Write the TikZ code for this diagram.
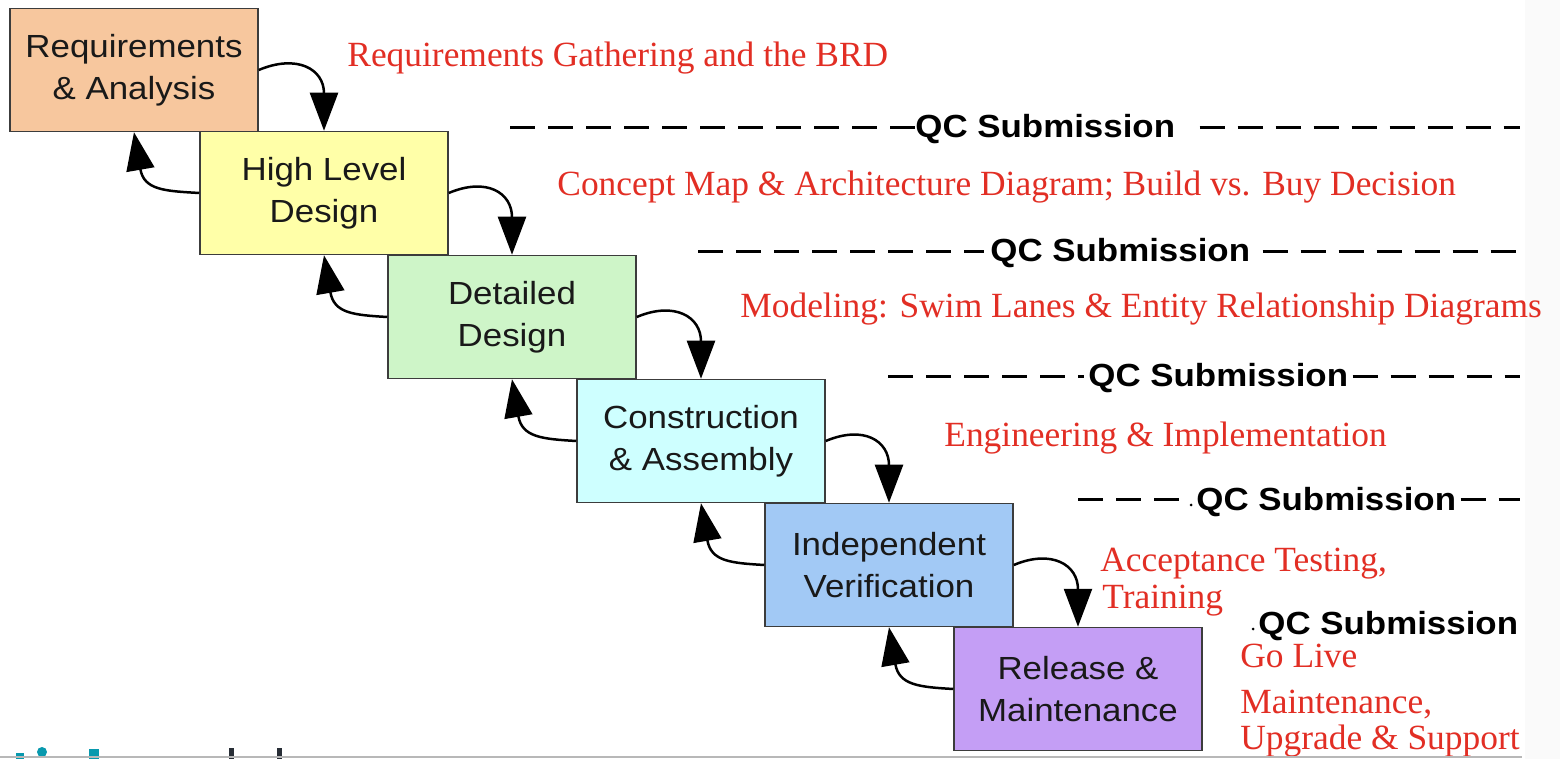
\documentclass[tikz,border=0pt]{standalone}
\usepackage{fontspec}
\usetikzlibrary{arrows.meta}
\newfontfamily\boxfont[FakeStretch=1.09]{Liberation Sans}
\newfontfamily\notefont{Liberation Serif}
\definecolor{boxedge}{RGB}{60,60,60}
\definecolor{boxtext}{RGB}{25,25,25}
\definecolor{notered}{RGB}{226,46,36}
\definecolor{reqfill}{RGB}{247,199,158}
\definecolor{hldfill}{RGB}{255,255,168}
\definecolor{ddfill}{RGB}{206,245,200}
\definecolor{confill}{RGB}{206,255,255}
\definecolor{verfill}{RGB}{162,201,245}
\definecolor{relfill}{RGB}{196,158,245}
\definecolor{logoteal}{RGB}{8,153,174}
\definecolor{logodark}{RGB}{40,46,54}
\begin{document}
\begin{tikzpicture}[x=0.5pt,y=-0.5pt,
  phase/.style={draw=boxedge, line width=0.75pt, minimum width=124pt,
    minimum height=61.5pt, inner sep=0pt, align=center, text=boxtext,
    font=\boxfont\fontsize{16}{21}\selectfont},
  note/.style={anchor=base west, inner sep=0pt, text=notered,
    font=\notefont\fontsize{17.7}{18.5}\selectfont},
  qc/.style={anchor=base west, inner sep=0pt, text=black,
    font=\boxfont\bfseries\fontsize{16}{16}\selectfont},
  qcdash/.style={line width=1.5pt, dash pattern=on 12.5pt off 6.5pt},
  flow/.style={line width=1.25pt, -{Triangle[width=14pt,length=19pt]}}]

% page area
\useasboundingbox (0,0) rectangle (1560,759);
\fill[white] (0,0) rectangle (1560,759);
\fill[black!2] (1525,0) rectangle (1560,759);

% the six phases
\node[phase, fill=reqfill] (b1) at (134,70)  {Requirements\\\& Analysis};
\node[phase, fill=hldfill] (b2) at (324,193) {High Level\\Design};
\node[phase, fill=ddfill]  (b3) at (512,317) {Detailed\\Design};
\node[phase, fill=confill] (b4) at (701,441) {Construction\\\& Assembly};
\node[phase, fill=verfill] (b5) at (889,565) {Independent\\Verification};
\node[phase, fill=relfill] (b6) at (1078,689) {Release \&\\Maintenance};

% forward hand-offs
\foreach \a/\b in {b1/b2,b2/b3,b3/b4,b4/b5,b5/b6}
  \draw[flow] (\a.east) .. controls +(38,-16) and +(0,-62) .. (\b.north);
% feedback loops
\foreach \a/\b in {b2/b1,b3/b2,b4/b3,b5/b4,b6/b5}
  \draw[flow] (\a.west) .. controls +(-34,-2) and +(10,58) .. (\b.south);

% deliverables
\node[note] (n1) at (347,67) {Requirements Gathering and the BRD};
\node[note] (n2) at (557,196) {Concept Map \& Architecture Diagram; Build vs. Buy Decision};
\node[note] (n3) at (740,318) {Modeling: Swim Lanes \& Entity Relationship Diagrams};
\node[note] (n4) at (944,447) {Engineering \& Implementation};
\node[note] (n5a) at (1100,571) {Acceptance Testing,};
\node[note] (n5b) at (1102,608) {Training};
\node[note] (n6) at (1240,667) {Go Live};
\node[note] (n7a) at (1240,713) {Maintenance,};
\node[note] (n7b) at (1240,749) {Upgrade \& Support};

% quality gates
\node[qc] (q1) at (915,138)  {QC Submission};
\node[qc] (q2) at (990,262)  {QC Submission};
\node[qc] (q3) at (1088,387) {QC Submission};
\node[qc] (q4) at (1196,510) {QC Submission};
\node[qc] (q5) at (1258,634) {QC Submission};
\fill (1191,505) circle (1.5);
\fill (1253,629) circle (1.5);

\coordinate (l1) at (510,128);  \coordinate (r1) at (1520,128);
\coordinate (l2) at (698,252);  \coordinate (r2) at (1520,252);
\coordinate (l3) at (888,377);  \coordinate (r3) at (1520,377);
\coordinate (l4) at (1078,500); \coordinate (r4) at (1520,500);
\draw[qcdash] (l1) -- (q1.west |- l1);
\draw[qcdash] ([xshift=12pt]q1.east |- r1) -- (r1);
\draw[qcdash] (l2) -- ([xshift=-3pt]q2.west |- l2);
\draw[qcdash] ([xshift=6pt]q2.east |- r2) -- (r2);
\draw[qcdash] (l3) -- ([xshift=-2pt]q3.west |- l3);
\draw[qcdash] ([xshift=2pt]q3.east |- r3) -- (r3);
\draw[qcdash] (l4) -- ([xshift=-6pt]q4.west |- l4);
\draw[qcdash] ([xshift=2pt]q4.east |- r4) -- (r4);

% cut-off footer mark
\fill[logoteal] (16,753) rectangle (24,759);
\fill[logoteal] (42,752) circle (5);
\fill[logoteal] (89,749) rectangle (99,759);
\fill[logodark] (229,748) rectangle (234,759);
\fill[logodark] (277,748) rectangle (282,759);
\draw[black!28, line width=1pt] (0,757) -- (1522,757);
\end{tikzpicture}
\end{document}
